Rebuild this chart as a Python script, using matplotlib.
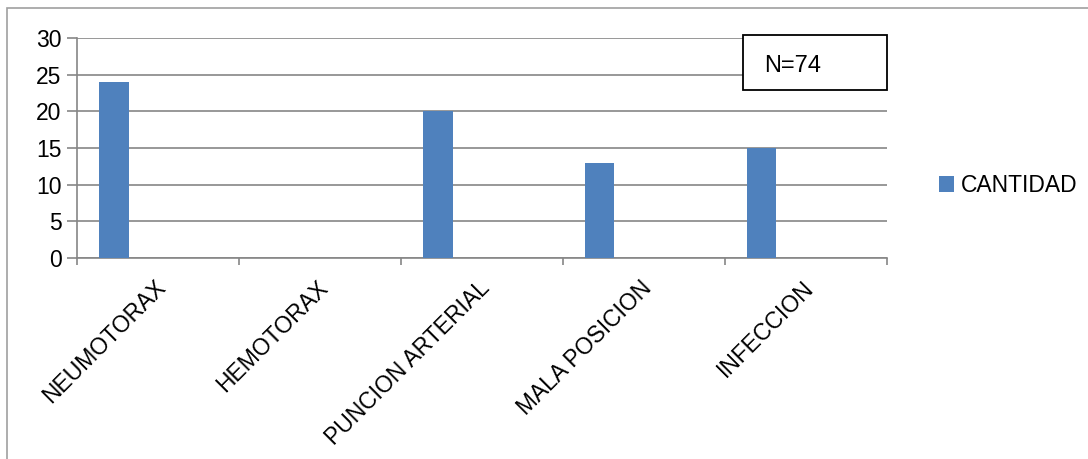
import matplotlib.pyplot as plt
import matplotlib.patches as mpatches
import matplotlib.transforms as mtransforms
import numpy as np

plt.rcParams["font.family"] = ["Liberation Sans", "DejaVu Sans"]

# --- Complicaciones ---
categorias = ["NEUMOTORAX", "HEMOTORAX", "PUNCION ARTERIAL", "MALA POSICION", "INFECCION"]
cantidad = [24, 0, 20, 13, 15]
serie = "CANTIDAD"
nota = "N=74"

grid_gray = "#868686"
bar_blue = "#4F81BD"
W, H = 1088, 459
fs = 16.5

fig = plt.figure(figsize=(W / 100, H / 100), dpi=100)
ax = fig.add_axes([77 / W, 1 - 258 / H, 809.5 / W, 220 / H])

x = np.arange(len(categorias))
# bars sit in the left half of each category slot
ax.bar(x - 0.271, cantidad, width=0.181, color=bar_blue, zorder=3, label=serie)

ax.set_xlim(-0.5, len(categorias) - 0.5)
ax.set_ylim(0, 30)
ax.set_yticks(range(0, 31, 5))
ax.yaxis.grid(True, color=grid_gray, linewidth=1.2, zorder=0)

ax.set_xticks(np.arange(len(categorias) + 1) - 0.5, minor=False)
ax.set_xticklabels([])
ax.set_xticks(x, minor=True)
ax.set_xticklabels(categorias, minor=True, rotation=45, ha="right",
                   va="top", rotation_mode="anchor", fontsize=fs)
ax.tick_params(axis="x", which="minor", length=0, pad=13)
ax.tick_params(axis="x", which="major", length=5, width=1.2, color=grid_gray)
ax.tick_params(axis="y", length=7, width=1.2, color=grid_gray, labelsize=fs, pad=4)

# nudge the rotated labels a few pixels left
shift = mtransforms.ScaledTranslation(-4 / 100, 0, fig.dpi_scale_trans)
for lbl in ax.get_xticklabels(minor=True):
    lbl.set_transform(lbl.get_transform() + shift)

for s in ["top", "right"]:
    ax.spines[s].set_visible(False)
for s in ["left", "bottom"]:
    ax.spines[s].set_color(grid_gray)
    ax.spines[s].set_linewidth(1.2)

# N annotation box
fig.patches.append(mpatches.Rectangle((742.7 / W, 1 - 90 / H), 144 / W, 55 / H,
                                      transform=fig.transFigure, fc="white", ec="black",
                                      lw=1.3, zorder=4))
fig.text(764 / W, 1 - 66 / H, nota, fontsize=17, va="center", ha="left", zorder=5)

handles, labels = ax.get_legend_handles_labels()
fig.legend(handles, labels, loc="center left", bbox_to_anchor=(939 / W, 1 - 185.5 / H),
           frameon=False, fontsize=fs, borderpad=0, borderaxespad=0,
           handlelength=0.65, handleheight=0.65, handletextpad=0.3)

# outer chart frame
fig.patches.append(mpatches.Rectangle((7 / W, -0.1), 1.2, 1 - 8 / H + 0.1,
                                      transform=fig.transFigure, fc="none",
                                      ec="#A0A0A0", lw=1.2))

fig.savefig("out.png", dpi=100)
